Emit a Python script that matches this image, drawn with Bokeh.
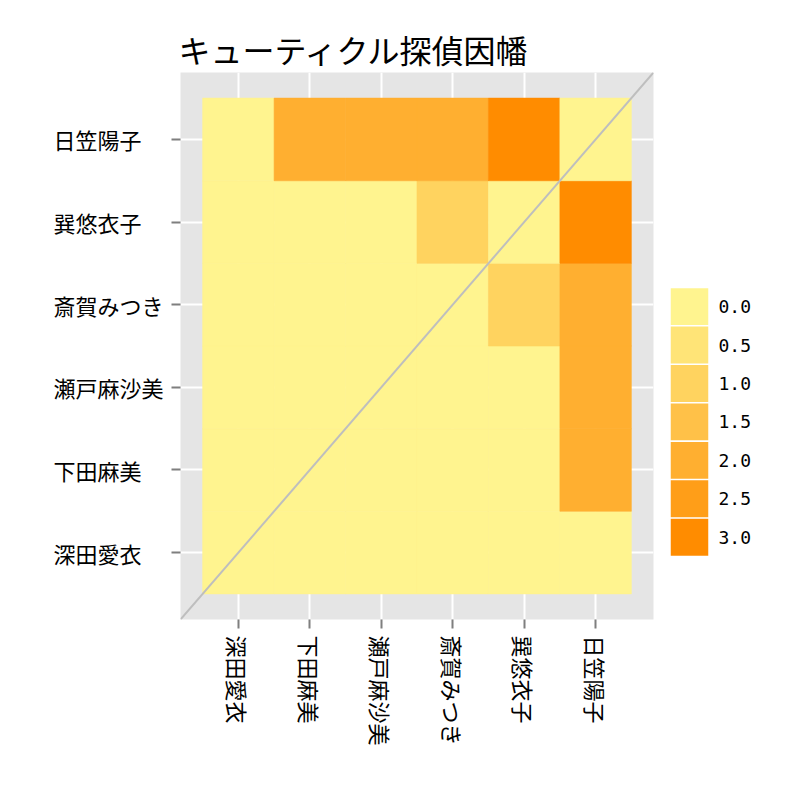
import numpy as np
from bokeh.plotting import figure
from bokeh.layouts import row
from bokeh.models import (ColumnDataSource, LinearColorMapper, FixedTicker, Slope, Range1d)
from bokeh.core.properties import value
from bokeh.transform import transform
from bokeh.embed import file_html
from bokeh.resources import INLINE

# order on both axes (x: left -> right, y: bottom -> top)
names = ["深田愛衣", "下田麻美", "瀬戸麻沙美", "斎賀みつき", "巽悠衣子", "日笠陽子"]

# one row per y name (bottom -> top), one column per x name
row_fukada = [0, 0, 0, 0, 0, 0]
row_shimoda = [0, 0, 0, 0, 0, 2]
row_seto = [0, 0, 0, 0, 0, 2]
row_saiga = [0, 0, 0, 0, 1, 2]
row_tatsumi = [0, 0, 0, 1, 0, 3]
row_hikasa = [0, 2, 2, 2, 3, 0]
rows = [row_fukada, row_shimoda, row_seto, row_saiga, row_tatsumi, row_hikasa]

legend_levels = ["0.0", "0.5", "1.0", "1.5", "2.0", "2.5", "3.0"]
legend_colors = ["#FFF48F", "#FFE477", "#FFD35F", "#FFC148", "#FFAF30", "#FF9E18", "#FF8C00"]

JP = "Noto Sans CJK JP"
ticks = list(range(1, len(names) + 1))

xs, ys, vals = [], [], []
for yi, r in enumerate(rows):
    for xi, v in enumerate(r):
        xs.append(xi + 1)
        ys.append(yi + 1)
        vals.append(v)
src = ColumnDataSource(data=dict(x=xs, y=ys, value=vals))

mapper = LinearColorMapper(palette=legend_colors, low=-0.25, high=3.25)
yr = Range1d(0.19, 6.81)

# main heatmap
p = figure(frame_width=473, frame_height=547,
           x_range=Range1d(0.19, 6.81), y_range=yr,
           output_backend="svg", toolbar_location=None,
           title="キューティクル探偵因幡",
           min_border_left=15, min_border_top=72, min_border_right=17,
           min_border_bottom=10)

p.background_fill_color = "#E5E5E5"
p.border_fill_color = "white"
p.outline_line_color = None
p.title.text_font = JP
p.title.text_font_size = "32px"
p.title.text_font_style = "normal"
p.title.text_color = "#000000"
p.title.standoff = 2
p.title.offset = -2

p.rect(x="x", y="y", width=1, height=1, source=src,
       fill_color=transform("value", mapper),
       line_color=transform("value", mapper), line_width=0.6)

p.add_layout(Slope(gradient=1, y_intercept=0, line_color="#BEBEBE", line_width=2))

for ax in (p.xaxis[0], p.yaxis[0]):
    ax.ticker = FixedTicker(ticks=ticks)
    ax.axis_line_color = None
    ax.major_tick_line_color = "#7F7F7F"
    ax.major_tick_line_width = 2
    ax.major_tick_out = 9
    ax.major_tick_in = 0
    ax.minor_tick_line_color = None
    ax.major_label_text_font = JP
    ax.major_label_text_font_size = "22px"
    ax.major_label_text_color = "#000000"

p.xaxis.major_label_overrides = {t: n for t, n in zip(ticks, names)}
p.xaxis.major_label_orientation = -np.pi / 2
p.xaxis.major_label_standoff = 7
# y labels are drawn left-aligned in the strip on the left
p.yaxis.major_label_overrides = {t: "" for t in ticks}
p.yaxis.major_label_standoff = 0

p.grid.ticker = FixedTicker(ticks=ticks)
p.grid.grid_line_color = "white"
p.grid.grid_line_width = 2
p.grid.minor_grid_line_color = None

# left strip holding the y tick labels (left aligned)
lab = figure(frame_width=112, frame_height=547, x_range=Range1d(0, 1), y_range=yr,
             output_backend="svg", toolbar_location=None,
             min_border_left=53, min_border_right=0, min_border_top=72,
             min_border_bottom=10)
lab.axis.visible = False
lab.grid.visible = False
lab.outline_line_color = None
lab.background_fill_color = "white"
lab.text(x=[0] * len(names), y=ticks, text=names, text_align="left",
         text_baseline="middle", text_font=value(JP), text_font_size="22px",
         text_color="#000000")

# legend keys as a small figure, same frame height as the heatmap
key_pos = list(range(len(legend_levels), 0, -1))  # 0.0 on top
leg = figure(frame_width=38, frame_height=547, x_range=Range1d(0, 1),
             y_range=Range1d(-1.14, 13.09),
             output_backend="svg", toolbar_location=None, y_axis_location="right",
             min_border_left=0, min_border_top=72, min_border_right=10,
             min_border_bottom=10)
leg.rect(x=[0.5] * len(legend_levels), y=key_pos, width=1, height=0.96,
         fill_color=legend_colors, line_color=None)
leg.xaxis.visible = False
leg.grid.visible = False
leg.outline_line_color = None
leg.background_fill_color = "white"
leg.yaxis.ticker = FixedTicker(ticks=key_pos)
leg.yaxis.major_label_overrides = {k: s for k, s in zip(key_pos, legend_levels)}
leg.yaxis.axis_line_color = None
leg.yaxis.major_tick_line_color = None
leg.yaxis.minor_tick_line_color = None
leg.yaxis.major_label_standoff = 4
leg.yaxis.major_label_text_font = "DejaVu Sans Mono"
leg.yaxis.major_label_text_font_size = "18px"
leg.yaxis.major_label_text_color = "#000000"

layout = row(lab, p, leg)
open("out.html", "w").write(file_html(layout, INLINE))
